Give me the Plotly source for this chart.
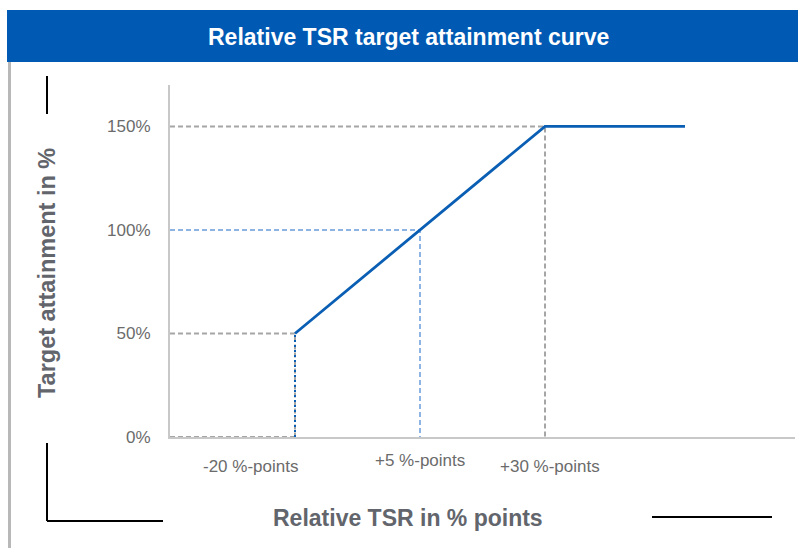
import plotly.graph_objects as go

# Data
tsr_points = [-20, 5, 30, 58]          # relative TSR in %-points
attainment = [50, 100, 150, 150]       # target attainment in %
y_tick_vals = [0, 50, 100, 150]
y_tick_text = ["0%", "50%", "100%", "150%"]
x_label_vals = [-20, 5, 30]
x_label_text = ["-20 %-points", "+5 %-points", "+30 %-points"]

REF_H = 548
W, H = 798, 558
SY = H / REF_H
X_MIN, X_MAX = -45, 80
Y_MIN, Y_MAX = 0, 170

def px(x):
    return x / W

def py(y):
    return (H - y * SY) / H

GREY = "#a6a6a6"
LBLUE = "#8db4e2"
BLUE = "#0a5fb4"
TICK = "#6b6b6b"
TITLE = "#62656c"
DASH = "5px,3px"

fig = go.Figure()

for xv, yv in [(tsr_points[0], attainment[0]), (tsr_points[2], attainment[2])]:
    fig.add_trace(go.Scatter(x=[X_MIN, xv, xv], y=[yv, yv, Y_MIN], mode="lines",
                             line=dict(color=GREY, width=2, dash=DASH),
                             hoverinfo="skip", showlegend=False))
fig.add_trace(go.Scatter(x=[X_MIN, tsr_points[0]], y=[0, 0], mode="lines",
                         line=dict(color=GREY, width=2, dash=DASH),
                         hoverinfo="skip", showlegend=False))
fig.add_trace(go.Scatter(x=[X_MIN, tsr_points[1], tsr_points[1]],
                         y=[attainment[1], attainment[1], Y_MIN], mode="lines",
                         line=dict(color=LBLUE, width=2, dash=DASH),
                         hoverinfo="skip", showlegend=False))
fig.add_trace(go.Scatter(x=[tsr_points[0], tsr_points[0]], y=[Y_MIN, attainment[0]], mode="lines",
                         line=dict(color=BLUE, width=2, dash="2px,3px"),
                         hoverinfo="skip", showlegend=False))
fig.add_trace(go.Scatter(x=tsr_points, y=attainment, mode="lines",
                         line=dict(color=BLUE, width=2.8),
                         showlegend=False))

annotations = []
label_y_px = [466, 461, 467]
label_dx = [-9, 0, 1]
for xv, t, yp, dx in zip(x_label_vals, x_label_text, label_y_px, label_dx):
    annotations.append(dict(x=xv + dx, xref="x",
                            y=py(yp), yref="paper", text=t, showarrow=False,
                            xanchor="center", yanchor="middle",
                            font=dict(family="Liberation Sans, Arial", size=17, color=TICK)))

annotations.append(dict(x=px(408), y=py(37), xref="paper", yref="paper",
                        text="<b>Relative TSR target attainment curve</b>", showarrow=False,
                        xanchor="center", yanchor="middle",
                        font=dict(family="Liberation Sans Narrow, Arial Narrow, Liberation Sans", size=23, color="white")))
annotations.append(dict(x=px(408), y=py(518), xref="paper", yref="paper",
                        text="<b>Relative TSR in % points</b>", showarrow=False,
                        xanchor="center", yanchor="middle",
                        font=dict(family="Liberation Sans, Arial", size=23, color=TITLE)))
annotations.append(dict(x=px(47), y=py(273), xref="paper", yref="paper",
                        text="<b>Target attainment in %</b>", showarrow=False, textangle=-90,
                        xanchor="center", yanchor="middle",
                        font=dict(family="Liberation Sans, Arial", size=23.5, color=TITLE)))

shapes = [
    dict(type="rect", xref="paper", yref="paper", x0=px(7), x1=1, y0=py(62), y1=py(10),
         fillcolor="#0059b3", line=dict(width=0), layer="below"),
    dict(type="line", xref="paper", yref="paper", x0=px(9.5), x1=px(9.5), y0=py(62), y1=0,
         line=dict(color="#b8b8b8", width=3)),
    dict(type="line", xref="paper", yref="paper", x0=px(47), x1=px(47), y0=py(76), y1=py(114),
         line=dict(color="black", width=2)),
    dict(type="line", xref="paper", yref="paper", x0=px(47), x1=px(47), y0=py(443), y1=py(521),
         line=dict(color="black", width=2)),
    dict(type="line", xref="paper", yref="paper", x0=px(47), x1=px(163), y0=py(521), y1=py(521),
         line=dict(color="black", width=2)),
    dict(type="line", xref="paper", yref="paper", x0=px(652), x1=px(772), y0=py(517), y1=py(517),
         line=dict(color="black", width=2)),
]

fig.update_layout(
    width=W, height=H, margin=dict(l=0, r=0, t=0, b=0),
    paper_bgcolor="white", plot_bgcolor="white",
    xaxis=dict(domain=[px(170), px(795)], range=[X_MIN, X_MAX], showgrid=False, zeroline=False,
               showticklabels=False, showline=True, linecolor="#c8c8c8", linewidth=2,
               fixedrange=True),
    yaxis=dict(domain=[py(437), py(85)], range=[Y_MIN, Y_MAX], showgrid=False, zeroline=False,
               tickvals=y_tick_vals, ticktext=y_tick_text, ticks="", ticklabelstandoff=14,
               tickfont=dict(family="Liberation Sans, Arial", size=17, color=TICK),
               showline=True, linecolor="#c8c8c8", linewidth=2, fixedrange=True),
    annotations=annotations, shapes=shapes,
)

fig.write_html(
    "out.html",
    config={"displayModeBar": False},
    post_script=(
        "var d=document.documentElement,b=document.body;"
        "d.style.margin='0';d.style.padding='0';d.style.overflow='hidden';"
        "b.style.margin='0';b.style.padding='0';b.style.overflow='hidden';"
    ),
)
